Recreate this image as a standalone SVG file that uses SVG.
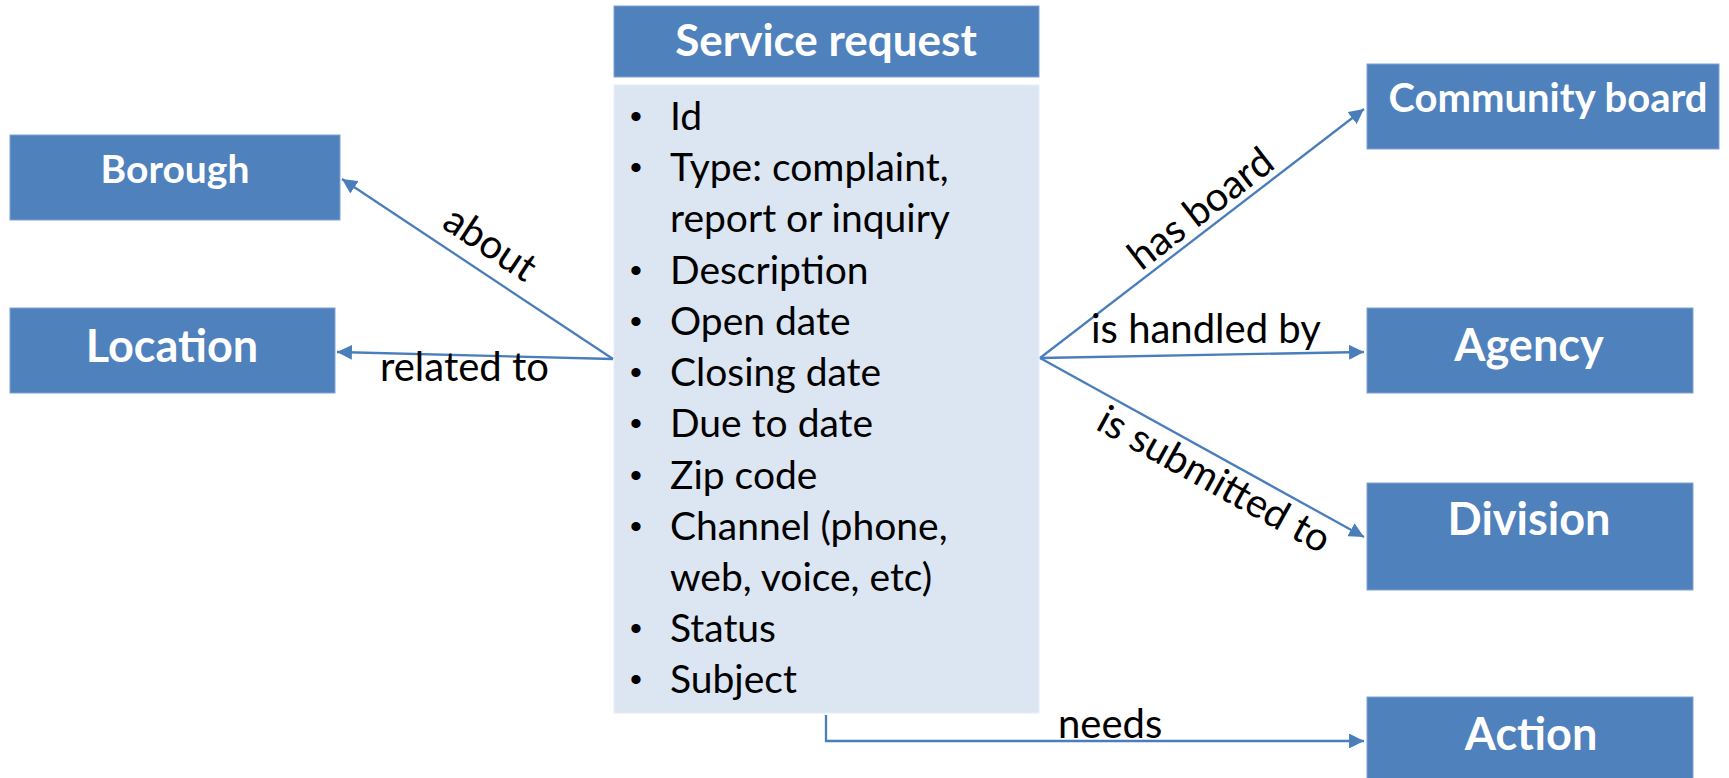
<svg xmlns="http://www.w3.org/2000/svg" width="1729" height="778" viewBox="0 0 1729 778">
<style>
.box{fill:#4F81BD;stroke:#7FA3D2;stroke-width:1}
.body{fill:#DCE6F2;stroke:#E6EDF6;stroke-width:1}
.nt{font-family:Lato,"Liberation Sans",sans-serif;font-weight:bold;fill:#fff;text-anchor:middle}
.bt{font-family:Lato,"Liberation Sans",sans-serif;font-size:39px;fill:#000}
.bu{font-family:"Liberation Sans",sans-serif;font-size:34px;fill:#000}
.lt{font-family:Lato,"Liberation Sans",sans-serif;font-size:40px;fill:#000}
.edge{fill:none;stroke:#4A7EBB;stroke-width:2.3}
</style>
<defs>
<marker id="arr" viewBox="0 0 10 10" refX="10" refY="5" markerWidth="6.5" markerHeight="6.5" markerUnits="strokeWidth" orient="auto">
<path d="M0,0 L10,5 L0,10 z" fill="#4A7EBB"/>
</marker>
</defs>
<rect width="1729" height="778" fill="#fff"/>

<g id="service-request">
<rect class="box" x="614" y="6" width="425" height="71"/>
<text class="nt" x="826" y="56" font-size="44">Service request</text>
<rect class="body" x="614" y="85" width="425" height="628"/>
<g class="bu">
<text x="630" y="128">•</text>
<text x="630" y="179">•</text>
<text x="630" y="282">•</text>
<text x="630" y="333">•</text>
<text x="630" y="384">•</text>
<text x="630" y="435">•</text>
<text x="630" y="487">•</text>
<text x="630" y="538">•</text>
<text x="630" y="640">•</text>
<text x="630" y="691">•</text>
</g>
<g class="bt">
<text x="670" y="130">Id</text>
<text x="670" y="181">Type: complaint,</text>
<text x="670" y="232">report or inquiry</text>
<text x="670" y="284">Description</text>
<text x="670" y="335">Open date</text>
<text x="670" y="386">Closing date</text>
<text x="670" y="437">Due to date</text>
<text x="670" y="489">Zip code</text>
<text x="670" y="540">Channel (phone,</text>
<text x="670" y="591">web, voice, etc)</text>
<text x="670" y="642">Status</text>
<text x="670" y="693">Subject</text>
</g>
</g>

<g id="borough">
<rect class="box" x="10" y="135" width="330" height="85"/>
<text class="nt" x="175" y="183" font-size="39">Borough</text>
</g>
<g id="location">
<rect class="box" x="10" y="308" width="325" height="85"/>
<text class="nt" x="172" y="362" font-size="45">Location</text>
</g>
<g id="community-board">
<rect class="box" x="1367" y="64" width="352" height="85"/>
<text class="nt" x="1548" y="112" font-size="40">Community board</text>
</g>
<g id="agency">
<rect class="box" x="1367" y="308" width="326" height="85"/>
<text class="nt" x="1529" y="361" font-size="45">Agency</text>
</g>
<g id="division">
<rect class="box" x="1367" y="483" width="326" height="107"/>
<text class="nt" x="1529" y="535" font-size="45">Division</text>
</g>
<g id="action">
<rect class="box" x="1367" y="697" width="326" height="82"/>
<text class="nt" x="1531" y="750" font-size="45">Action</text>
</g>

<g id="connectors">
<line class="edge" x1="613" y1="359" x2="342" y2="179" marker-end="url(#arr)"/>
<line class="edge" x1="613" y1="359" x2="337" y2="352" marker-end="url(#arr)"/>
<line class="edge" x1="1040" y1="358" x2="1364" y2="109" marker-end="url(#arr)"/>
<line class="edge" x1="1040" y1="358" x2="1364" y2="352" marker-end="url(#arr)"/>
<line class="edge" x1="1040" y1="358" x2="1364" y2="537" marker-end="url(#arr)"/>
<polyline class="edge" points="826,715 826,741 1364,741" marker-end="url(#arr)"/>
<text class="lt" transform="translate(490,244) rotate(33.6)" text-anchor="middle" y="13">about</text>
<text class="lt" x="380" y="381">related to</text>
<text class="lt" transform="translate(1201,209) rotate(-37.6)" text-anchor="middle" y="13">has board</text>
<text class="lt" x="1091" y="343">is handled by</text>
<text class="lt" transform="translate(1214,480) rotate(29)" text-anchor="middle" y="13">is submitted to</text>
<text class="lt" x="1058" y="738">needs</text>
</g>
</svg>
